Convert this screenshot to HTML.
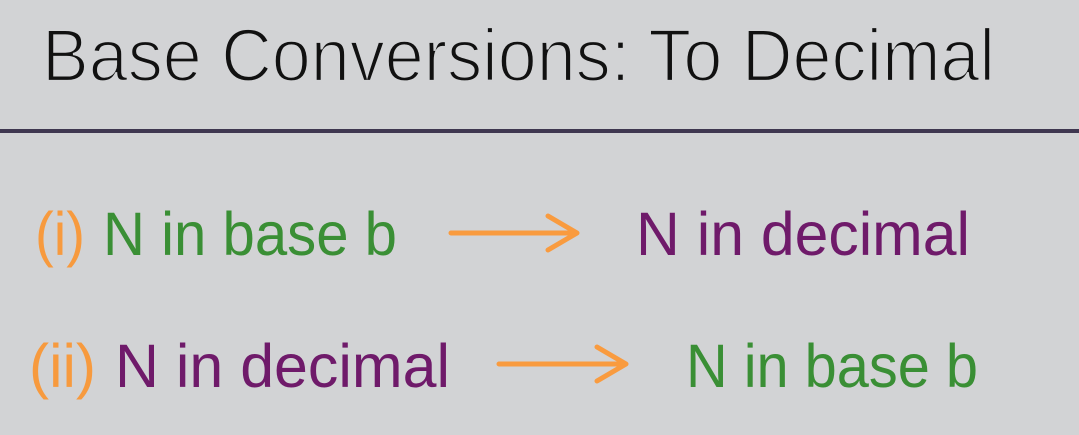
<!DOCTYPE html>
<html><head><meta charset="utf-8"><style>
html,body{margin:0;padding:0;background:#d2d3d5;}
svg{display:block}
</style></head><body>
<svg width="1079" height="435" viewBox="0 0 1079 435" xmlns="http://www.w3.org/2000/svg" font-family="Liberation Sans, sans-serif">
<rect width="1079" height="435" fill="#d2d3d5"/>
<text x="42" y="81" font-size="74" fill="#111" stroke="#d2d3d5" stroke-width="2.2" textLength="953" lengthAdjust="spacingAndGlyphs">Base Conversions: To Decimal</text>
<rect x="0" y="129" width="1079" height="4" fill="#3f3750"/>
<g font-size="61">
<text x="35" y="255" fill="#f79a3e" textLength="50" lengthAdjust="spacingAndGlyphs">(i)</text>
<text x="103" y="255" fill="#3a8f35" textLength="294" lengthAdjust="spacingAndGlyphs">N in base b</text>
<text x="636" y="255" fill="#6f1a6a" textLength="334" lengthAdjust="spacingAndGlyphs">N in decimal</text>
<text x="29" y="387" fill="#f79a3e" textLength="67" lengthAdjust="spacingAndGlyphs">(ii)</text>
<text x="115" y="387" fill="#6f1a6a" textLength="335" lengthAdjust="spacingAndGlyphs">N in decimal</text>
<text x="686" y="387" fill="#3a8f35" textLength="292" lengthAdjust="spacingAndGlyphs">N in base b</text>
</g>
<g stroke="#f99b3f" stroke-width="5" stroke-linecap="round" stroke-linejoin="round" fill="none">
<path d="M451 233 H577 M548 216 L577 233 L548 250"/>
<path d="M499 364 H626 M597 347 L626 364 L597 381"/>
</g>
</svg>
</body></html>
